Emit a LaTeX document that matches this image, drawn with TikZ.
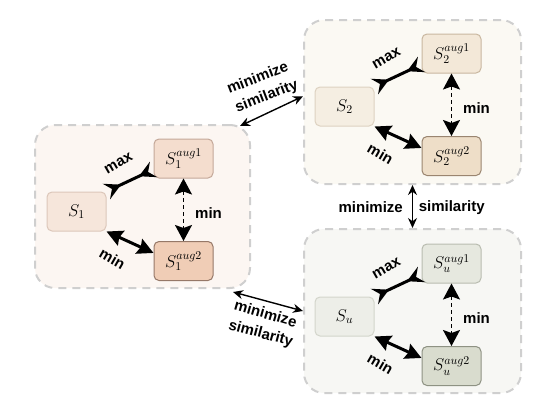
\RequirePackage{fix-cm}
\documentclass[tikz,border=0pt]{standalone}
\usepackage{fontspec}
\newfontfamily\labfont{Liberation Sans}
\usetikzlibrary{arrows.meta,calc}
\definecolor{gbox}{HTML}{CFCFCF}
\definecolor{Lbg}{HTML}{FCF6F2}
\definecolor{LA}{HTML}{F6E6DB}\definecolor{LAd}{HTML}{DCC7BA}
\definecolor{LB}{HTML}{F4DDCE}\definecolor{LBd}{HTML}{C4A899}
\definecolor{LC}{HTML}{F0CDB6}\definecolor{LCd}{HTML}{967868}
\definecolor{Tbg}{HTML}{FBF9F3}
\definecolor{TA}{HTML}{F5EEE2}\definecolor{TAd}{HTML}{DDD2C1}
\definecolor{TB}{HTML}{F3E8D8}\definecolor{TBd}{HTML}{C9B7A0}
\definecolor{TC}{HTML}{EEDEC8}\definecolor{TCd}{HTML}{9A8570}
\definecolor{Bbg}{HTML}{F7F7F4}
\definecolor{BA}{HTML}{EDEEE8}\definecolor{BAd}{HTML}{D3D5CB}
\definecolor{BB}{HTML}{E6E8DF}\definecolor{BBd}{HTML}{B9BCB0}
\definecolor{BC}{HTML}{D9DCCE}\definecolor{BCd}{HTML}{8E9283}
\tikzset{
  groupbox/.style={draw=gbox, line width=2pt, dash pattern=on 8pt off 6pt, rounded corners=20pt},
  setnode/.style={draw, line width=1pt, rounded corners=5pt, minimum width=59pt, minimum height=39pt, inner sep=0pt, font=\fontsize{17}{20}\selectfont},
  lbl/.style={font=\labfont\bfseries\fontsize{15}{18}\selectfont, inner sep=0pt},
  maxarrow/.style={line width=3pt, {Stealth[reversed,length=16pt,width=17pt,inset=6pt]}-{Stealth[reversed,length=16pt,width=17pt,inset=6pt]}},
  minarrow/.style={line width=3pt, {Stealth[length=16pt,width=16pt,inset=2pt]}-{Stealth[length=16pt,width=16pt,inset=2pt]}},
  dasharrow/.style={line width=1.6pt, dash pattern=on 4pt off 3pt, {Stealth[length=16pt,width=17pt,inset=3pt]}-{Stealth[length=16pt,width=17pt,inset=3pt]}},
  linkarrow/.style={line width=1.4pt, {Stealth[length=10pt,width=9pt]}-{Stealth[length=10pt,width=9pt]}}
}
% #1 prefix, #2 subscript, #3,#4 centre of S node, #5 colour prefix
\newcommand\mycluster[5]{%
  \node[setnode, draw=#5Ad, fill=#5A] (#1s) at (#3,#4) {$S_{#2}$};
  \node[setnode, draw=#5Bd, fill=#5B] (#1a) at ($(#1s)+(107,-53)$) {$S_{#2}^{aug1}$};
  \node[setnode, draw=#5Cd, fill=#5C] (#1b) at ($(#1a)+(0,102.5)$) {$S_{#2}^{aug2}$};
  \draw[maxarrow] (#1s.north east) -- (#1a.200);
  \draw[minarrow] (#1s.south east) -- (#1b.165);
  \draw[dasharrow] (#1a.south) -- (#1b.north);
  \node[lbl, rotate=30] (#1mx) at ($(#1s)+(42,-48)$) {max};
  \node[lbl, rotate=-30] (#1mn) at ($(#1s)+(36,47)$) {min};
  \node[lbl] (#1md) at ($(#1a)+(25,55)$) {min};
}
\begin{document}
\begin{tikzpicture}[x=1pt,y=-1pt]
\useasboundingbox (0,0) rectangle (544,418);
% group boxes
\node[groupbox, fill=Lbg, minimum width=215pt, minimum height=163pt, inner sep=0pt] (L) at (142.5,206.5) {};
\node[groupbox, fill=Tbg, minimum width=217pt, minimum height=164pt, inner sep=0pt] (T) at (412.5,102) {};
\node[groupbox, fill=Bbg, minimum width=217pt, minimum height=164pt, inner sep=0pt] (B) at (412.5,311) {};
\mycluster{one}{1}{76.5}{211.5}{L}
\mycluster{two}{2}{344.5}{106.5}{T}
\mycluster{u}{u}{344.5}{316.5}{B}
% links between groups
\coordinate (ltop) at (240,126);
\coordinate (lbot) at (233,292);
\draw[linkarrow] (ltop) -- (T.177);
\draw[linkarrow] (lbot) -- (B.west);
\draw[linkarrow] (T.south) -- (B.north);
\node[lbl, rotate=21] (t1) at (257.3,77.3) {minimize};
\node[lbl, rotate=21] (t2) at (266.7,96.7) {similarity};
\node[lbl, rotate=-16] (b1) at (265.7,313.3) {minimize};
\node[lbl, rotate=-15] (b2) at (260.7,334) {similarity};
\node[lbl] (v1) at (370.7,206.7) {minimize};
\node[lbl] (v2) at (451.7,207.3) {similarity};
\end{tikzpicture}
\end{document}
